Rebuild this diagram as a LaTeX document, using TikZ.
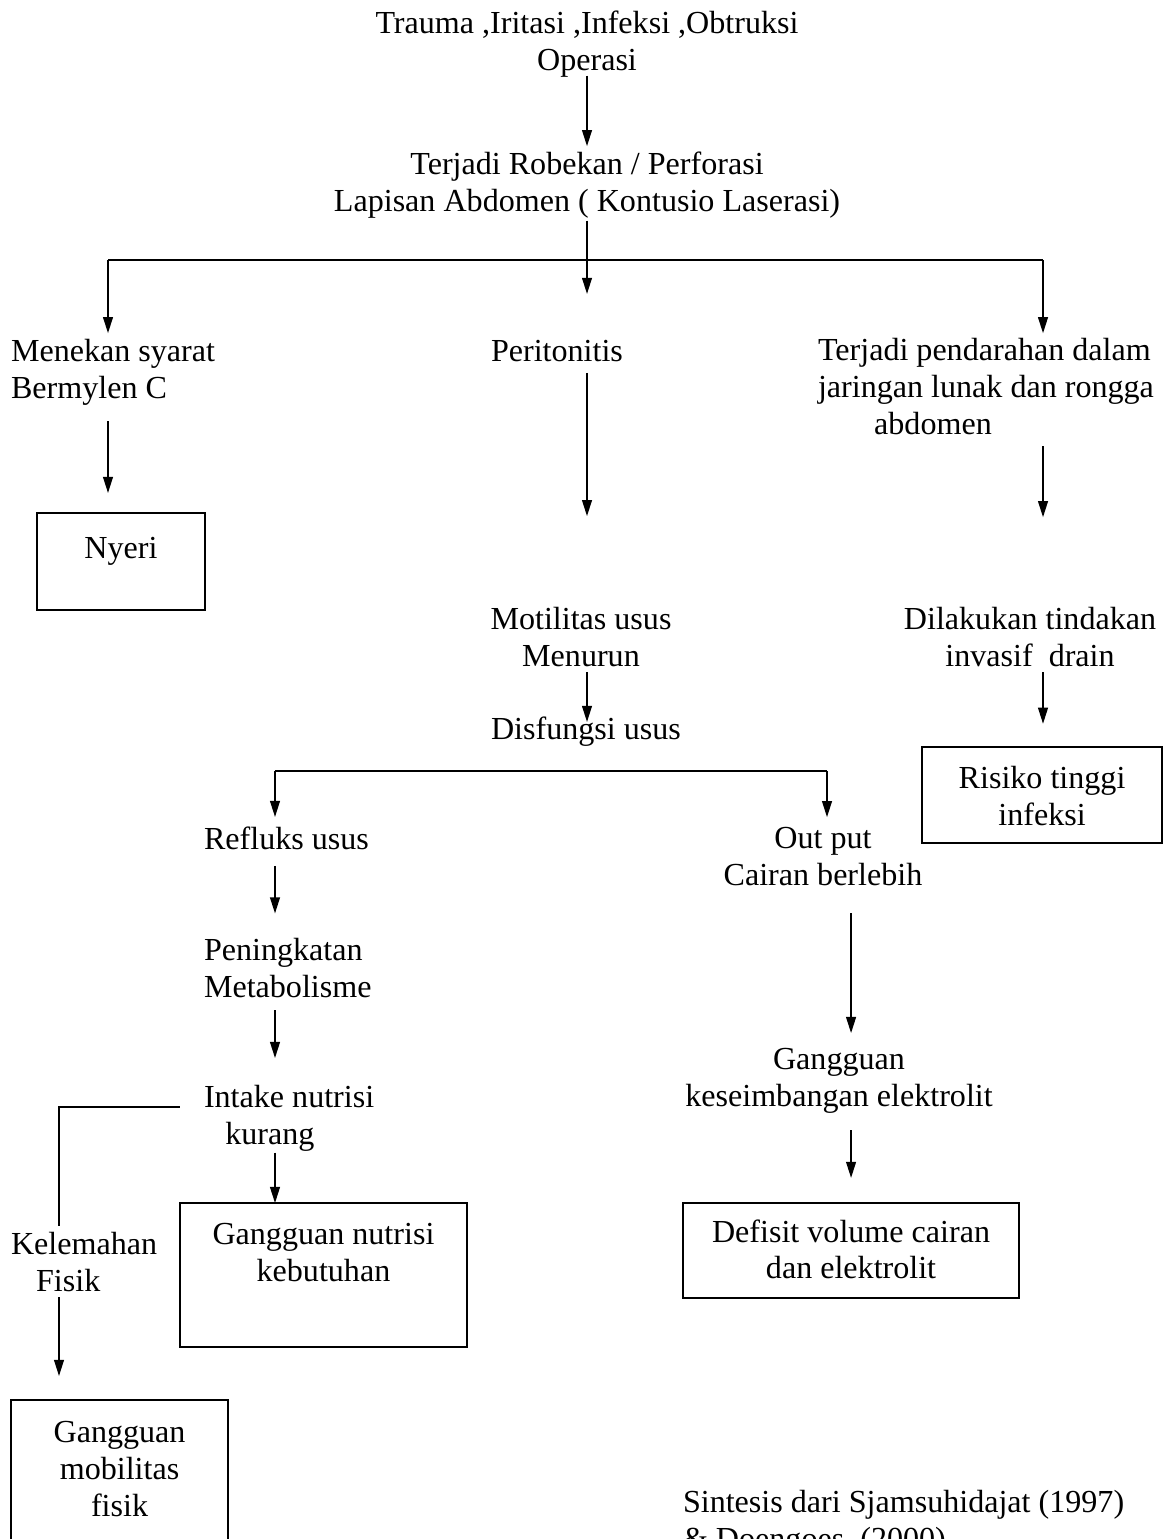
\documentclass[tikz,border=0pt]{standalone}
\usepackage{fontspec}
\setmainfont{Liberation Serif}
\usepackage{tikz}
\usetikzlibrary{arrows.meta}

\tikzset{
  txt/.style={inner sep=0pt, outer sep=0pt, font=\fontsize{12pt}{13.8pt}\selectfont,
    execute at begin node={\rule{0pt}{11.9pt}}, execute at end node=\strut},
  box/.style={txt, draw, line width=0.8pt, align=center, anchor=north west, inner xsep=0pt, inner ysep=0pt},
  flow/.style={-{Triangle[length=6pt,width=3.7pt]}, line width=0.5pt},
  fork/.style={line width=0.8pt}
}

\begin{document}
\begin{tikzpicture}[x=0.374pt, y=-0.374pt]
      \useasboundingbox (0,0) rectangle (1163,1539);
      \clip (0,0) rectangle (1163,1539);
      % causes and first level
      \node[txt, anchor=north, align=center] (cause) at (587,11) {Trauma ,Iritasi ,Infeksi ,Obtruksi\\Operasi};
      \node[txt, anchor=north, align=center] (tear) at (587,152) {Terjadi Robekan / Perforasi\\Lapisan Abdomen ( Kontusio Laserasi)};
      \coordinate (lcol) at (108,260);
      \coordinate (rcol) at (1043,260);
      \node[txt, anchor=north west, align=left] (press) at (11,339) {Menekan syarat\\Bermylen C};
      \node[txt, anchor=north west] (perit) at (491,330) {Peritonitis};
      \node[txt, anchor=north west, align=left] (bleed) at (818,338) {Terjadi pendarahan dalam\\jaringan lunak dan rongga\\\hspace*{21pt}abdomen};
      \node[box, text height=17.2pt, text depth=19.1pt, minimum width=62.8pt] (pain) at (37,513) {Nyeri};
      % middle and right column
      \node[txt, anchor=north, align=center] (motil) at (581,607) {Motilitas usus\\Menurun};
      \node[txt, anchor=north west] (dysf) at (491,708) {Disfungsi usus};
      \node[txt, anchor=north, align=center] (invas) at (1030,607) {Dilakukan tindakan\\invasif~ drain};
      \node[box, text height=29.2pt, text depth=6.7pt, minimum width=89.8pt] (risk) at (922,747) {Risiko tinggi\\infeksi};
      \coordinate (lfork) at (275,771);
      \coordinate (rfork) at (827,771);
      \node[txt, anchor=north west] (reflux) at (204,818) {Refluks usus};
      \node[txt, anchor=north, align=center] (outp) at (823,827) {Out put\\Cairan berlebih};
      \node[txt, anchor=north west, align=left] (metab) at (204,938) {Peningkatan\\Metabolisme};
      \node[txt, anchor=north, align=center] (balance) at (839,1048) {Gangguan\\keseimbangan elektrolit};
      \node[txt, anchor=north west, align=left] (intake) at (204,1085) {Intake nutrisi\\\hspace*{8pt}kurang};
      \coordinate (bend) at (59,1107);
      \node[txt, anchor=north west, align=left] (weak) at (11,1232) {Kelemahan\\\hspace*{9.4pt}Fisik};
      \node[box, text height=29.2pt, text depth=24.7pt, minimum width=107.3pt] (nutri) at (180,1203) {Gangguan nutrisi\\kebutuhan};
      \node[box, text height=28.4pt, text depth=7.1pt, minimum width=125.7pt] (deficit) at (683,1203) {Defisit volume cairan\\dan elektrolit};
      \node[box, text height=43.4pt, text depth=16.5pt, minimum width=81.2pt] (mobil) at (11,1400) {Gangguan\\mobilitas\\fisik};
      \node[txt, anchor=north west, align=left] (source) at (683,1490) {Sintesis dari Sjamsuhidajat (1997)\\\& Doengoes, (2000)};
      % connectors
      \draw[flow, shorten <=-2.2pt, shorten >=2.2pt] (cause.south) -- (tear.north);
      \draw[fork] (lcol) -- (rcol);
      \draw[flow, shorten <=-0.7pt, shorten >=13.5pt] (tear.south) -- (tear.south |- perit.north);
      \draw[flow, shorten >=2.2pt] (lcol) -- (lcol |- press.north);
      \draw[flow, shorten >=1.8pt] (rcol) -- (rcol |- bleed.north);
      \draw[flow, shorten <=4.5pt, shorten >=7.5pt] (lcol |- press.south) -- (lcol |- pain.north);
      \draw[flow, shorten >=34pt] (tear.south |- perit.south) -- (tear.south |- motil.north);
      \draw[flow, shorten <=0.4pt, shorten >=33.6pt] (rcol |- bleed.south) -- (rcol |- invas.north);
      \draw[flow, shorten <=-1.8pt, shorten >=-5.2pt] (tear.south |- motil.south) -- (tear.south |- dysf.north);
      \draw[flow, shorten <=-1.8pt, shorten >=8.7pt] (rcol |- invas.south) -- (rcol |- risk.north);
      \draw[fork] (lfork) -- (rfork);
      \draw[flow, shorten >=0.4pt] (lfork) -- (lfork |- reflux.north);
      \draw[flow, shorten >=3.7pt] (rfork) -- (rfork |- outp.north);
      \draw[flow, shorten <=1.9pt, shorten >=9.2pt] (lfork |- reflux.south) -- (lfork |- metab.north);
      \draw[flow, shorten <=0.7pt, shorten >=10.1pt] (lfork |- metab.south) -- (lfork |- intake.north);
      \draw[flow, shorten <=-1pt] (lfork |- intake.south) -- (lfork |- nutri.north);
      \draw[flow, shorten <=6.4pt, shorten >=5.6pt] (deficit |- outp.south) -- (deficit |- balance.north);
      \draw[flow, shorten <=4.9pt, shorten >=9.4pt] (deficit |- balance.south) -- (deficit.north);
      \draw[fork, shorten <=9pt, shorten >=2.2pt] (intake.west |- bend) -- (bend) -- (bend |- weak.north);
      \draw[flow, shorten <=-1.9pt, shorten >=9pt] (bend |- weak.south) -- (bend |- mobil.north);
\end{tikzpicture}
\end{document}
